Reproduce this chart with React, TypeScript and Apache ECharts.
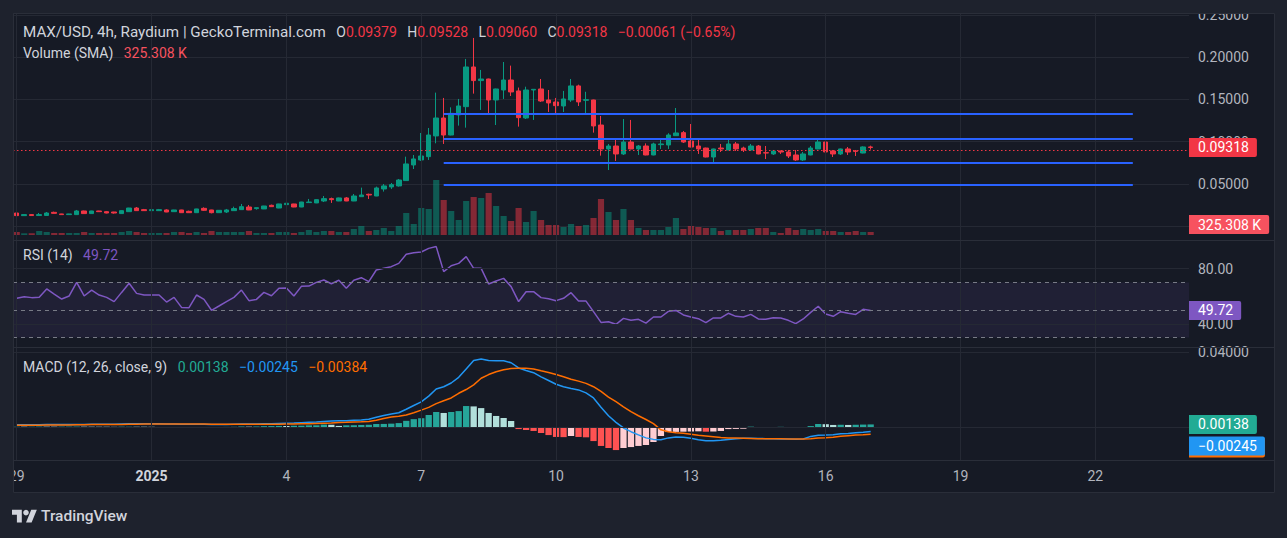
import React, { useEffect, useRef } from "react";
import * as echarts from "echarts";

// ---------- time slots (4h candles from 29 Dec 2024) ----------
const START_UTC = Date.UTC(2024, 11, 29, 0, 0, 0);
const SLOT_HOURS = 4;
const SLOT_COUNT = 157;
const TICK_STEP = 18;
const tickLabels = ["29", "2025", "4", "7", "10", "13", "16", "19", "22"];
const categories = Array.from({ length: SLOT_COUNT }, (_, i) =>
  new Date(START_UTC + i * SLOT_HOURS * 3600000).toISOString().slice(0, 16)
);

// ---------- price (MAX/USD) ----------
const opens = [
  0.0157, 0.0126, 0.0138, 0.0127, 0.0128, 0.0165, 0.0146, 0.0138, 0.0138, 0.0181,
  0.015, 0.0181, 0.0173, 0.0169, 0.015, 0.0173, 0.0216, 0.0197, 0.0185, 0.0185,
  0.0193, 0.0173, 0.0193, 0.0177, 0.0161, 0.0212, 0.0193, 0.0161, 0.0169, 0.0185,
  0.0197, 0.0228, 0.0209, 0.0205, 0.0248, 0.0216, 0.0256, 0.0264, 0.0228, 0.028,
  0.0276, 0.0299, 0.0327, 0.0299, 0.0335, 0.0299, 0.035, 0.0378, 0.0358, 0.0441,
  0.0465, 0.0477, 0.054, 0.0725, 0.0784, 0.0823, 0.1068, 0.128, 0.1079, 0.1316,
  0.1414, 0.1883, 0.1722, 0.1741, 0.1493, 0.1611, 0.1729, 0.16, 0.128, 0.1611,
  0.1623, 0.1493, 0.1469, 0.1422, 0.1493, 0.1659, 0.1489, 0.1493, 0.1197, 0.0914,
  0.0949, 0.0855, 0.0996, 0.0914, 0.0949, 0.0843, 0.0965, 0.0961, 0.1071, 0.1107,
  0.1008, 0.0949, 0.0925, 0.0819, 0.0925, 0.0902, 0.0973, 0.0925, 0.0902, 0.0949,
  0.087, 0.0855, 0.089, 0.0878, 0.0843, 0.0784, 0.0843, 0.0914, 0.0996, 0.089,
  0.0855, 0.0914, 0.089, 0.0866, 0.09379,
];
const closes = [
  0.0126, 0.0138, 0.0127, 0.0138, 0.0157, 0.0153, 0.0138, 0.0146, 0.0181, 0.015,
  0.0181, 0.0173, 0.0157, 0.0157, 0.0185, 0.0216, 0.0185, 0.0185, 0.0197, 0.0197,
  0.0169, 0.0193, 0.0161, 0.0161, 0.0205, 0.0189, 0.0161, 0.0189, 0.0193, 0.0209,
  0.0232, 0.0193, 0.022, 0.024, 0.0232, 0.0264, 0.0272, 0.0228, 0.0287, 0.0287,
  0.0315, 0.0327, 0.0315, 0.0335, 0.0299, 0.0358, 0.037, 0.037, 0.0453, 0.0477,
  0.0492, 0.0547, 0.0737, 0.0796, 0.0831, 0.1079, 0.128, 0.1079, 0.1335, 0.1422,
  0.1883, 0.1722, 0.1741, 0.1493, 0.1623, 0.1729, 0.1588, 0.1284, 0.1611, 0.1619,
  0.1481, 0.1458, 0.1426, 0.1505, 0.1659, 0.147, 0.1497, 0.1186, 0.0914, 0.0949,
  0.0855, 0.0996, 0.0914, 0.0949, 0.0843, 0.0973, 0.0973, 0.1079, 0.1103, 0.0996,
  0.0937, 0.0914, 0.0819, 0.0914, 0.0914, 0.0973, 0.0914, 0.0902, 0.0949, 0.0855,
  0.0866, 0.089, 0.0878, 0.0831, 0.0784, 0.0855, 0.0925, 0.0996, 0.0878, 0.0855,
  0.0914, 0.0878, 0.0886, 0.09379, 0.09318,
];
const highs = [
  0.0159, 0.0142, 0.0142, 0.0157, 0.0169, 0.0173, 0.0148, 0.0148, 0.0193, 0.0185,
  0.0183, 0.0183, 0.0181, 0.0171, 0.0189, 0.0218, 0.0228, 0.0205, 0.0205, 0.0205,
  0.0201, 0.0195, 0.0195, 0.0185, 0.0207, 0.0224, 0.0195, 0.0191, 0.0205, 0.0232,
  0.0264, 0.0252, 0.0222, 0.0242, 0.0256, 0.0266, 0.028, 0.0266, 0.0289, 0.0323,
  0.0319, 0.0358, 0.0339, 0.0339, 0.0346, 0.0382, 0.0457, 0.0386, 0.0469, 0.05,
  0.0512, 0.0559, 0.0823, 0.0843, 0.1103, 0.1162, 0.158, 0.1517, 0.1406, 0.1505,
  0.1978, 0.2226, 0.1848, 0.1745, 0.1627, 0.1942, 0.1899, 0.164, 0.165, 0.1623,
  0.1741, 0.1611, 0.1517, 0.16, 0.1741, 0.1674, 0.159, 0.1497, 0.1304, 0.0973,
  0.102, 0.1268, 0.1257, 0.0961, 0.098, 0.0988, 0.104, 0.11, 0.1398, 0.1126,
  0.1209, 0.102, 0.0929, 0.0918, 0.0973, 0.102, 0.0996, 0.0941, 0.0973, 0.0961,
  0.0949, 0.0902, 0.0894, 0.0902, 0.0902, 0.0878, 0.0949, 0.102, 0.1, 0.0902,
  0.0918, 0.0937, 0.0902, 0.0945, 0.09528,
];
const lows = [
  0.0124, 0.0122, 0.0125, 0.0125, 0.0126, 0.0151, 0.0136, 0.0136, 0.0136, 0.0148,
  0.0148, 0.0171, 0.0153, 0.015, 0.0148, 0.0171, 0.0183, 0.0181, 0.0183, 0.0183,
  0.0167, 0.0171, 0.0159, 0.0159, 0.0159, 0.0181, 0.0153, 0.0159, 0.0157, 0.0183,
  0.0195, 0.0191, 0.0197, 0.0203, 0.023, 0.0214, 0.0254, 0.0226, 0.0226, 0.0278,
  0.0274, 0.0287, 0.0276, 0.0297, 0.0297, 0.0297, 0.0348, 0.0323, 0.0356, 0.041,
  0.0441, 0.0469, 0.0536, 0.0677, 0.0772, 0.0784, 0.0981, 0.0973, 0.1075, 0.119,
  0.1166, 0.1568, 0.1375, 0.1335, 0.1197, 0.1505, 0.154, 0.1178, 0.1268, 0.1257,
  0.147, 0.1351, 0.1339, 0.1351, 0.147, 0.1422, 0.1335, 0.1107, 0.0835, 0.0665,
  0.0772, 0.0843, 0.091, 0.0843, 0.0839, 0.0839, 0.0914, 0.0914, 0.1071, 0.0985,
  0.0933, 0.0855, 0.0815, 0.076, 0.0878, 0.0898, 0.089, 0.0878, 0.089, 0.0851,
  0.0795, 0.0843, 0.0855, 0.0807, 0.0772, 0.0772, 0.0839, 0.091, 0.0855, 0.0819,
  0.0843, 0.0843, 0.0831, 0.0862, 0.0906,
];

// ---------- volume (thousands) ----------
const volumesK = [
  93, 53, 53, 124, 93, 62, 62, 62, 62, 93,
  62, 62, 62, 62, 93, 124, 93, 62, 62, 62,
  62, 93, 93, 62, 93, 62, 124, 93, 93, 93,
  93, 124, 62, 62, 62, 93, 93, 62, 93, 155,
  93, 124, 124, 93, 93, 186, 279, 124, 155, 217,
  124, 279, 682, 341, 837, 806, 1705, 1085, 744, 465,
  1054, 1178, 1147, 1302, 899, 589, 434, 837, 403, 744,
  465, 310, 310, 248, 341, 279, 310, 527, 1116, 713,
  465, 806, 465, 217, 155, 155, 155, 248, 527, 186,
  279, 248, 217, 217, 124, 155, 155, 155, 186, 217,
  217, 93, 62, 217, 155, 186, 155, 186, 124, 124,
  93, 93, 124, 93, 93,
];
const volumeSmaK = 325.308;

// ---------- RSI (14) ----------
const rsi = [
  58.5, 59.7, 59.0, 59.2, 65.3, 61.6, 58.0, 60.2, 70.1, 60.2,
  64.5, 60.9, 59.2, 56.1, 62.8, 69.4, 62.1, 60.9, 60.9, 60.9,
  55.8, 59.2, 51.9, 51.7, 60.9, 57.7, 49.8, 52.9, 56.1, 59.2,
  64.5, 56.8, 57.7, 62.8, 60.4, 65.8, 66.0, 60.2, 67.2, 67.4,
  70.1, 71.8, 69.1, 71.6, 65.8, 71.6, 73.5, 70.6, 79.1, 80.3,
  81.5, 83.9, 90.5, 91.7, 92.2, 94.8, 96.1, 77.9, 82.2, 83.9,
  88.8, 80.3, 80.3, 68.9, 71.1, 73.0, 67.0, 56.1, 63.3, 63.3,
  59.0, 58.2, 56.8, 58.5, 62.6, 56.5, 56.5, 48.8, 41.0, 41.5,
  39.6, 43.9, 42.5, 43.2, 40.5, 44.9, 44.9, 49.0, 49.7, 46.4,
  44.9, 43.7, 40.8, 44.2, 44.2, 47.6, 45.4, 44.9, 46.8, 43.5,
  43.2, 44.4, 44.2, 42.5, 40.1, 43.5, 48.3, 52.7, 47.1, 45.4,
  48.8, 47.6, 46.8, 50.5, 49.72,
];
const rsiBands = [70, 50, 30];

// ---------- MACD (12, 26, close, 9) ----------
const macdLine = [
  0.0012, 0.0012, 0.0012, 0.0012, 0.0013, 0.0013, 0.0013, 0.0013, 0.0014, 0.0014,
  0.0015, 0.0015, 0.0015, 0.0015, 0.0016, 0.0017, 0.0017, 0.0017, 0.0017, 0.0017,
  0.0016, 0.0016, 0.0015, 0.0015, 0.0015, 0.0015, 0.0014, 0.0014, 0.0014, 0.0015,
  0.0016, 0.0016, 0.0016, 0.0017, 0.0018, 0.0019, 0.002, 0.0021, 0.0023, 0.0025,
  0.0027, 0.003, 0.0032, 0.0033, 0.0034, 0.0036, 0.0038, 0.0041, 0.0052, 0.0062,
  0.007, 0.0076, 0.0095, 0.0115, 0.0134, 0.0165, 0.0203, 0.0215, 0.0235, 0.0265,
  0.031, 0.0355, 0.0363, 0.0355, 0.0353, 0.0354, 0.0343, 0.0315, 0.0302, 0.029,
  0.0268, 0.0248, 0.0228, 0.0215, 0.0205, 0.0198, 0.0182, 0.0155, 0.0105, 0.006,
  0.0025, -0.0005, -0.0025, -0.0042, -0.0058, -0.0066, -0.0068, -0.0058, -0.0053, -0.0054,
  -0.006, -0.0068, -0.0073, -0.0073, -0.0071, -0.0066, -0.0063, -0.006, -0.006, -0.0061,
  -0.0062, -0.0063, -0.0064, -0.0064, -0.0065, -0.0064, -0.005, -0.0044, -0.0043, -0.0041,
  -0.0036, -0.0034, -0.0031, -0.0028, -0.00245,
];
const signalLine = [
  0.001, 0.001, 0.001, 0.001, 0.0011, 0.0011, 0.0011, 0.0011, 0.0012, 0.0012,
  0.0013, 0.0013, 0.0013, 0.0014, 0.0014, 0.0015, 0.0015, 0.0016, 0.0016, 0.0016,
  0.0016, 0.0016, 0.0016, 0.0016, 0.0016, 0.0016, 0.0015, 0.0015, 0.0015, 0.0015,
  0.0015, 0.0015, 0.0015, 0.0015, 0.0015, 0.0015, 0.0016, 0.0016, 0.0017, 0.0018,
  0.0019, 0.002, 0.0021, 0.0024, 0.0025, 0.0027, 0.0028, 0.003, 0.0036, 0.0046,
  0.0053, 0.0057, 0.0064, 0.0076, 0.009, 0.0105, 0.0125, 0.014, 0.0155, 0.018,
  0.02, 0.0225, 0.026, 0.028, 0.0295, 0.0306, 0.0312, 0.0314, 0.0313, 0.031,
  0.03, 0.0291, 0.028, 0.0268, 0.0255, 0.0245, 0.0233, 0.0215, 0.019, 0.016,
  0.0135, 0.0108, 0.0082, 0.006, 0.004, 0.0018, -0.0015, -0.0025, -0.003, -0.0033,
  -0.0038, -0.0044, -0.0048, -0.0052, -0.0056, -0.0058, -0.0059, -0.006, -0.0061, -0.0062,
  -0.0062, -0.0063, -0.0063, -0.0064, -0.0064, -0.0064, -0.0062, -0.0059, -0.0057, -0.0054,
  -0.0049, -0.0046, -0.0043, -0.0041, -0.00384,
];
const histogram = [
  0.0002, 0.00018, 0.0002, 0.00022, 0.0002, 0.00018, 0.00019, 0.0002, 0.00021, 0.00019,
  0.00018, 0.00016, 0.00015, 0.0001, 0.00018, 0.0002, 0.00019, 0.00016, 0.00012, -0.00008,
  -0.0001, -0.00012, -0.0001, -0.00009, -0.00012, -0.00014, -0.0001, -0.00005, 0.00005, 0.0001,
  0.00025, 0.0002, 0.0003, 0.00045, 0.0005, 0.00058, 0.00056, 0.0007, 0.00072, 0.0009,
  0.00092, 0.0013, 0.0012, 0.0006, 0.0009, 0.00095, 0.0011, 0.0012, 0.0016, 0.00165,
  0.0018, 0.0021, 0.0033, 0.0042, 0.0047, 0.0064, 0.008, 0.0075, 0.008, 0.0085,
  0.0112, 0.011, 0.0101, 0.0075, 0.0059, 0.0048, 0.0032, -0.0011, -0.0016, -0.0021,
  -0.0032, -0.0043, -0.0053, -0.0054, -0.0048, -0.0053, -0.0055, -0.0075, -0.0101, -0.0112,
  -0.0123, -0.0112, -0.0107, -0.0101, -0.0096, -0.008, -0.0048, -0.0027, -0.0026, -0.0025,
  -0.0024, -0.0023, -0.0025, -0.0024, -0.0021, -0.0011, -0.001, -0.0009, 0.0002, -0.0002,
  -0.0003, -0.0002, 0.0001, -0.0002, -0.0003, -0.0002, 0.0005, 0.0016, 0.0015, 0.0011,
  0.0012, 0.0011, 0.0012, 0.0013, 0.00138,
];

// ---------- drawn horizontal levels ----------
const levelPrices = [0.1331, 0.1035, 0.0752, 0.0492];
const levelStartIndex = 57;
const levelEndIndex = 149;

// ---------- style ----------
const FONT = 'Roboto, "Noto Sans", sans-serif';
const BG = "#161a25";
const OUTER = "#1e222d";
const GRID = "#252934";
const BORDER = "#2a2e39";
const AXIS_TEXT = "#b2b5be";
const LEGEND_TEXT = "#d1d4dc";
const UP = "#089981";
const DOWN = "#f23645";
const VOL_UP = "rgba(8,153,129,0.5)";
const VOL_DOWN = "rgba(242,54,69,0.5)";
const RSI_COLOR = "#7e57c2";
const MACD_COLOR = "#2196f3";
const SIGNAL_COLOR = "#ff6d00";
const HIST_TAG = "#22ab94";

const MINUS = "\u2212";
const fmt = (v: number, d: number) => (v < 0 ? MINUS : "") + Math.abs(v).toFixed(d);

try {
  echarts.graphic.registerShape(
    "tvLogo",
    echarts.graphic.extendPath("M14 22H7V11H0V4h14v18zM28 22h-8l7.5-18h8L28 22z", {}) as any
  );
} catch (e) {
  /* already registered */
}

function buildOption(): any {
  const last = closes.length - 1;
  const gridBox = { left: 13, right: 98 };
  const verticalLines = tickLabels.map((_, k) => ({ xAxis: k * TICK_STEP }));
  const gridLineSeries = (idx: number, hLines: { value: number; label?: string }[]) => ({
    type: "line",
    xAxisIndex: idx,
    yAxisIndex: idx,
    data: [],
    z: 1,
    silent: true,
    markLine: {
      silent: true,
      animation: false,
      symbol: ["none", "none"],
      lineStyle: { color: GRID, width: 1, type: "solid" },
      label: { show: false },
      data: [
        ...verticalLines,
        ...hLines.map((h) => ({
          yAxis: h.value,
          label: {
            show: !!h.label,
            position: "end",
            distance: 9,
            formatter: h.label || "",
            color: AXIS_TEXT,
            fontSize: 14,
            fontFamily: FONT,
          },
        })),
      ],
    },
  });

  const xAxes = [0, 1, 2, 3].map((i) => ({
    type: "category",
    gridIndex: i,
    data: categories,
    boundaryGap: true,
    axisLine: { show: false },
    axisTick: { show: false },
    splitLine: { show: false },
    axisLabel:
      i === 3
        ? {
            show: true,
            interval: (index: number) => index % TICK_STEP === 0,
            formatter: (_v: string, index: number) => {
              const t = tickLabels[Math.round(index / TICK_STEP)] || "";
              return t.length === 4 ? `{b|${t}}` : t;
            },
            color: AXIS_TEXT,
            fontSize: 14,
            fontFamily: FONT,
            margin: 9,
            rich: { b: { fontWeight: "bold", color: "#d1d4dc", fontSize: 14, fontFamily: FONT } },
          }
        : { show: false },
  }));

  const hiddenY = (i: number, min: number, max: number) => ({
    type: "value",
    gridIndex: i,
    position: "right",
    min,
    max,
    show: false,
    splitLine: { show: false },
  });

  const candles = opens.map((o, i) => [o, closes[i], lows[i], highs[i]]);

  return {
    animation: false,
    backgroundColor: BG,
    textStyle: { fontFamily: FONT },
    grid: [
      { ...gridBox, top: 13, height: 227 },
      { ...gridBox, top: 135, height: 100 },
      { ...gridBox, top: 240, height: 107 },
      { ...gridBox, top: 347, height: 113 },
    ],
    xAxis: xAxes,
    yAxis: [
      {
        type: "value",
        gridIndex: 0,
        position: "right",
        min: -0.0162,
        max: 0.2521,
        splitNumber: 5,
        axisLine: { show: false },
        axisTick: { show: false },
        splitLine: { lineStyle: { color: GRID, width: 1 } },
        axisLabel: {
          // the 0 label sits fully behind the volume tag in the reference
          formatter: (v: number) => (Math.abs(v) < 1e-9 ? "" : v.toFixed(5)),
          color: AXIS_TEXT,
          fontSize: 14,
          fontFamily: FONT,
          margin: 9,
          showMinLabel: false,
          showMaxLabel: false,
        },
      },
      hiddenY(1, 0, 3100),
      hiddenY(2, 23.1, 100.9),
      hiddenY(3, -0.0176, 0.0427),
    ],
    series: [
      gridLineSeries(0, []),
      {
        type: "bar",
        xAxisIndex: 1,
        yAxisIndex: 1,
        z: 2,
        barCategoryGap: "18%",
        data: volumesK.map((v, i) => ({
          value: v,
          itemStyle: { color: closes[i] >= opens[i] ? VOL_UP : VOL_DOWN },
        })),
      },
      {
        type: "candlestick",
        xAxisIndex: 0,
        yAxisIndex: 0,
        z: 3,
        barWidth: 5,
        data: candles,
        itemStyle: { color: UP, color0: DOWN, borderColor: UP, borderColor0: DOWN, borderWidth: 1 },
        markLine: {
          silent: true,
          animation: false,
          symbol: ["none", "none"],
          label: { show: false },
          lineStyle: { color: "#2962ff", width: 2, type: "solid" },
          data: [
            ...levelPrices.map((v) => [
              { coord: [levelStartIndex, v] },
              { coord: [levelEndIndex, v] },
            ]),
            { yAxis: closes[last], lineStyle: { color: DOWN, width: 1, type: [1.5, 2.5] } },
          ],
        },
      },
      gridLineSeries(2, [
        { value: 80, label: "80.00" },
        { value: 40, label: "40.00" },
      ]),
      {
        type: "line",
        xAxisIndex: 2,
        yAxisIndex: 2,
        z: 3,
        data: rsi,
        symbol: "none",
        showSymbol: false,
        lineStyle: { color: RSI_COLOR, width: 1.5 },
        markLine: {
          silent: true,
          animation: false,
          symbol: ["none", "none"],
          label: { show: false },
          lineStyle: { color: "#787b86", width: 1, type: [4, 4] },
          data: rsiBands.map((v) => ({ yAxis: v })),
        },
        markArea: {
          silent: true,
          itemStyle: { color: "rgba(126,87,194,0.1)" },
          data: [[{ yAxis: rsiBands[0] }, { yAxis: rsiBands[2] }]],
        },
      },
      gridLineSeries(3, [{ value: 0.04, label: "0.04000" }, { value: 0 }]),
      {
        type: "bar",
        xAxisIndex: 3,
        yAxisIndex: 3,
        z: 2,
        barCategoryGap: "16%",
        data: histogram.map((v, i) => {
          const prev = i > 0 ? histogram[i - 1] : v;
          const color =
            v >= 0 ? (v >= prev ? "#26a69a" : "#b2dfdb") : v < prev ? "#ff5252" : "#ffcdd2";
          return { value: v, itemStyle: { color } };
        }),
      },
      {
        type: "line",
        xAxisIndex: 3,
        yAxisIndex: 3,
        z: 3,
        data: macdLine,
        symbol: "none",
        showSymbol: false,
        lineStyle: { color: MACD_COLOR, width: 1.5 },
      },
      {
        type: "line",
        xAxisIndex: 3,
        yAxisIndex: 3,
        z: 3,
        data: signalLine,
        symbol: "none",
        showSymbol: false,
        lineStyle: { color: SIGNAL_COLOR, width: 1.5 },
      },
    ],
  };
}

function tag(y: number, text: string, bg: string, z: number) {
  return {
    type: "text",
    x: 1189,
    y,
    z,
    style: {
      text,
      fill: "#ffffff",
      fontSize: 14,
      fontFamily: FONT,
      backgroundColor: bg,
      padding: [2, 8, 2, 9],
      lineHeight: 15,
      align: "left",
      verticalAlign: "middle",
      borderRadius: [0, 2, 2, 0],
    },
  };
}

function buildGraphics(chart: any): any[] {
  const last = closes.length - 1;
  const px = (axis: number, v: number) => chart.convertToPixel({ yAxisIndex: axis }, v) as number;
  const priceY = px(0, closes[last]);
  const volY = px(1, volumeSmaK);
  const rsiY = px(2, rsi[last]);
  const histY = px(3, histogram[last]);
  const macdY = Math.max(px(3, macdLine[last]), histY + 21.5);
  const sigY = Math.max(px(3, signalLine[last]), macdY + 2);

  const change = closes[last] - closes[last - 1];
  const pct = (change / closes[last - 1]) * 100;
  const rich = (color: string, size = 14) => ({ fill: color, fontSize: size, fontFamily: FONT });

  return [
    // outer frame strips
    { type: "rect", z: 50, silent: true, shape: { x: 0, y: 0, width: 1287, height: 13 }, style: { fill: OUTER } },
    { type: "rect", z: 50, silent: true, shape: { x: 0, y: 0, width: 13, height: 538 }, style: { fill: OUTER } },
    { type: "rect", z: 50, silent: true, shape: { x: 1275, y: 0, width: 12, height: 538 }, style: { fill: OUTER } },
    { type: "rect", z: 50, silent: true, shape: { x: 0, y: 493, width: 1287, height: 45 }, style: { fill: OUTER } },
    { type: "rect", z: 51, silent: true, shape: { x: 13.5, y: 13.5, width: 1261, height: 479 }, style: { fill: "none", stroke: BORDER, lineWidth: 1 } },
    { type: "line", z: 51, silent: true, shape: { x1: 13, y1: 240.5, x2: 1275, y2: 240.5 }, style: { stroke: BORDER, lineWidth: 1 } },
    { type: "line", z: 51, silent: true, shape: { x1: 13, y1: 347.5, x2: 1275, y2: 347.5 }, style: { stroke: BORDER, lineWidth: 1 } },
    { type: "line", z: 51, silent: true, shape: { x1: 13, y1: 460.5, x2: 1275, y2: 460.5 }, style: { stroke: BORDER, lineWidth: 1 } },

    // legends
    {
      type: "text",
      z: 60,
      x: 23,
      y: 32,
      style: {
        text:
          `{t|MAX/USD, 4h, Raydium | GeckoTerminal.com}   O{r|${opens[last].toFixed(5)}}   H{r|${highs[last].toFixed(5)}}   L{r|${lows[last].toFixed(5)}}   C{r|${closes[last].toFixed(5)}}   {r|${fmt(change, 5)} (${fmt(pct, 2)}%)}`,
        fill: LEGEND_TEXT,
        fontSize: 14,
        fontFamily: FONT,
        verticalAlign: "middle",
        rich: { r: rich(DOWN), t: rich(LEGEND_TEXT, 15.2) },
      },
    },
    {
      type: "text",
      z: 60,
      x: 23,
      y: 53,
      style: {
        text: `Volume (SMA)   {r|${volumeSmaK.toFixed(3)} K}`,
        fill: LEGEND_TEXT,
        fontSize: 14,
        fontFamily: FONT,
        verticalAlign: "middle",
        rich: { r: rich("#f7525f") },
      },
    },
    {
      type: "text",
      z: 60,
      x: 23,
      y: 255,
      style: {
        text: `RSI (14)   {p|${rsi[last].toFixed(2)}}`,
        fill: LEGEND_TEXT,
        fontSize: 14,
        fontFamily: FONT,
        verticalAlign: "middle",
        rich: { p: rich(RSI_COLOR) },
      },
    },
    {
      type: "text",
      z: 60,
      x: 23,
      y: 367,
      style: {
        text: `MACD (12, 26, close, 9)   {g|${fmt(histogram[last], 5)}}   {b|${fmt(macdLine[last], 5)}}   {o|${fmt(signalLine[last], 5)}}`,
        fill: LEGEND_TEXT,
        fontSize: 14,
        fontFamily: FONT,
        verticalAlign: "middle",
        rich: { g: rich(HIST_TAG), b: rich(MACD_COLOR), o: rich(SIGNAL_COLOR) },
      },
    },

    // right-axis value tags
    tag(priceY, closes[last].toFixed(5), DOWN, 40),
    tag(volY, `${volumeSmaK.toFixed(3)} K`, "#f7525f", 40),
    tag(rsiY, rsi[last].toFixed(2), RSI_COLOR, 40),
    tag(sigY, fmt(signalLine[last], 5), SIGNAL_COLOR, 40),
    tag(macdY, fmt(macdLine[last], 5), MACD_COLOR, 41),
    tag(histY, fmt(histogram[last], 5), HIST_TAG, 42),

    // TradingView logo
    { type: "tvLogo", z: 60, x: 12, y: 507, scaleX: 0.7, scaleY: 0.7, style: { fill: "#d1d4dc" } },
    { type: "circle", z: 60, shape: { cx: 26, cy: 512.6, r: 2.8 }, style: { fill: "#d1d4dc" } },
    {
      type: "text",
      z: 60,
      x: 41,
      y: 516,
      style: {
        text: "TradingView",
        fill: "#d1d4dc",
        fontSize: 15.5,
        fontWeight: 500,
        fontFamily: FONT,
        verticalAlign: "middle",
      },
    },
  ];
}

export default function App() {
  const ref = useRef<HTMLDivElement>(null);
  useEffect(() => {
    const el = ref.current;
    if (!el) return;
    const chart = echarts.init(el, null, { renderer: "svg" });
    chart.setOption(buildOption());
    chart.setOption({ graphic: buildGraphics(chart) });
    return () => chart.dispose();
  }, []);
  return (
    <div
      ref={ref}
      style={{ position: "fixed", left: 0, top: 0, width: 1287, height: 538, background: BG }}
    />
  );
}
